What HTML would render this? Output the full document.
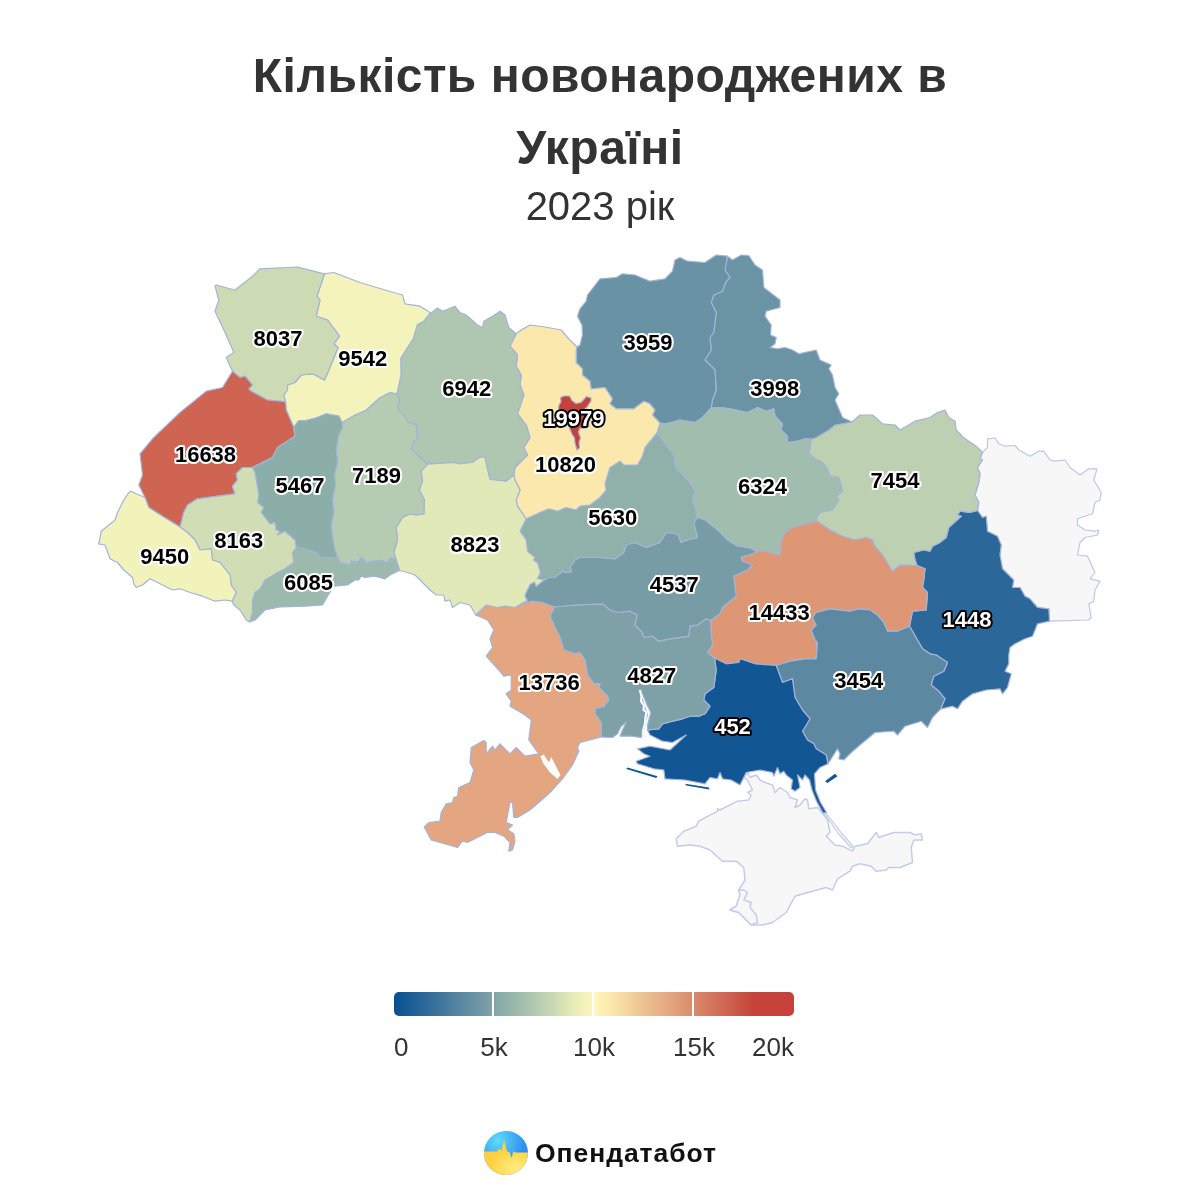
<!DOCTYPE html>
<html lang="uk"><head><meta charset="utf-8"><title>Кількість новонароджених в Україні</title>
<style>
html,body{margin:0;padding:0;background:#fff;}
body{width:1200px;height:1200px;position:relative;overflow:hidden;font-family:"Liberation Sans",Arial,sans-serif;color:#333;}
.title{position:absolute;left:0;top:40px;width:1200px;text-align:center;font-weight:bold;font-size:48px;line-height:72px;color:#333;letter-spacing:0.48px;}
.sub{position:absolute;left:0;top:183px;width:1200px;text-align:center;font-size:40px;line-height:46px;color:#333;}
.map{position:absolute;left:0;top:0;}
.lbl text{font-family:"Liberation Sans",Arial,sans-serif;font-weight:bold;font-size:22px;text-anchor:middle;paint-order:stroke fill;stroke-width:4px;stroke-linejoin:round;}
.lbl text.b{fill:#000;stroke:#fff;}
.lbl text.w{fill:#fff;stroke:#000;}
.bar{position:absolute;left:394px;top:992px;width:400px;height:24px;border-radius:5px;background:linear-gradient(to right,#074f92 0%,#769ba6 22.5%,#90b1aa 28.15%,#b0c8b1 35%,#cddbb4 40.2%,#e2e9b8 44.1%,#f4f3bc 47.7%,#fef7bd 50%,#fbe8ac 54.1%,#e4a680 68.7%,#dd9775 72.2%,#ce6451 83.2%,#c4423a 90%,#c4423a 100%);}
.tick{position:absolute;top:992px;width:2px;height:24px;background:#fff;}
.lg{position:absolute;top:1032px;font-size:26px;line-height:30px;color:#333;white-space:nowrap;}
.logo{position:absolute;left:484px;top:1130.5px;width:44px;height:44px;}
.brand{position:absolute;left:535px;top:1134.5px;font-size:26.5px;line-height:36px;font-weight:bold;color:#111;white-space:nowrap;letter-spacing:0.95px;}
</style></head><body>
<div class="title">Кількість новонароджених в<br>Україні</div>
<div class="sub">2023 рік</div>
<svg class="map" width="1200" height="1200" viewBox="0 0 1200 1200">
<g stroke="#a3b4da" stroke-width="1.2" stroke-linejoin="round">
<path d="M747.5 772.5 L750.0 777.5 L756.2 775.0 L760.0 780.0 L765.0 782.5 L772.5 785.0 L775.0 792.5 L780.0 787.5 L787.5 792.5 L790.0 797.5 L797.5 800.0 L795.0 807.5 L800.0 805.0 L805.0 798.8 L807.5 800.0 L808.8 808.8 L817.5 807.5 L823.8 815.0 L827.5 820.0 L830.0 832.5 L826.2 836.2 L835.0 845.0 L842.5 846.2 L852.5 851.2 L855.0 846.2 L867.5 843.8 L876.2 832.5 L878.8 837.5 L890.0 833.8 L893.8 832.5 L910.0 832.5 L915.0 835.0 L921.2 833.8 L922.5 840.0 L913.8 840.0 L911.2 847.5 L912.5 862.5 L900.0 867.5 L888.8 867.5 L886.2 870.0 L876.2 871.2 L871.2 866.2 L860.0 863.8 L852.5 866.2 L850.0 871.2 L837.5 878.8 L832.5 890.0 L826.2 887.5 L807.5 892.5 L795.0 896.2 L786.2 912.5 L772.5 922.5 L762.5 925.0 L751.2 925.0 L742.5 916.2 L738.8 912.5 L730.0 910.0 L736.2 906.2 L740.0 895.0 L738.8 890.0 L745.0 880.0 L743.8 867.5 L736.2 861.2 L722.5 861.2 L710.0 850.0 L700.0 846.2 L690.0 845.0 L677.5 846.2 L676.2 838.8 L683.8 831.2 L696.2 826.2 L698.8 821.2 L717.5 811.2 L717.5 808.8 L720.0 810.0 L737.5 801.2 L748.8 800.0 L751.2 795.0 L747.5 792.5 L752.5 790.0 L747.5 780.0 L743.8 777.5Z" fill="#f7f7f8" stroke="#c3cde8" stroke-width="1.5"/>
<path d="M730.0 910.0 L738.8 912.5 L742.5 916.2 L751.2 925.0 L757.5 922.5 L756.2 915.0 L750.0 907.5 L751.2 902.5 L743.8 900.0 L747.5 892.5 L743.8 890.0 L738.8 890.0 L740.0 895.0 L736.2 906.2Z" fill="#f7f7f8" stroke="#c3cde8" stroke-width="1.5"/>
<path d="M823.8 812.5 L837.5 832.5 L851.2 848.0 L853.0 846.5 L840.0 831.2 L825.0 812.0Z" fill="#f7f7f8" stroke="#c3cde8" stroke-width="1.2"/>
<path d="M982.5 452.5 L987.5 447.5 L987.5 438.8 L995.0 438.0 L998.8 443.8 L1005.0 446.2 L1015.0 445.5 L1018.8 450.0 L1030.0 456.2 L1038.8 451.2 L1043.8 451.2 L1050.0 460.0 L1055.0 461.2 L1065.0 460.0 L1070.0 467.5 L1080.0 475.0 L1088.8 468.8 L1097.0 468.8 L1093.8 480.0 L1101.2 492.5 L1100.0 500.0 L1095.0 502.5 L1092.5 513.8 L1077.5 518.8 L1077.5 525.0 L1085.0 530.0 L1095.0 531.2 L1098.8 530.0 L1097.5 535.0 L1085.0 537.5 L1080.0 542.5 L1077.5 555.0 L1087.5 556.2 L1095.0 572.5 L1090.0 578.8 L1100.0 581.2 L1095.0 590.0 L1093.8 601.2 L1088.8 603.8 L1091.2 617.5 L1088.8 620.0 L1049.5 621.2 L1048.8 608.8 L1037.5 607.5 L1030.0 598.8 L1025.0 596.2 L1020.0 587.5 L1012.5 587.5 L1013.8 580.0 L1002.5 568.8 L1000.0 555.0 L1001.2 545.0 L997.5 536.2 L987.5 531.2 L986.2 516.2 L982.5 517.5 L977.5 510.5 L978.8 502.5 L975.0 495.0 L978.8 482.5 L980.0 473.8 L977.5 467.5 L982.5 460.0 L980.0 458.8Z" fill="#f7f7f8" stroke="#bcc8e6"/>
<path d="M977.5 510.5 L982.5 517.5 L986.2 516.2 L987.5 531.2 L997.5 536.2 L1001.2 545.0 L1000.0 555.0 L1002.5 568.8 L1013.8 580.0 L1012.5 587.5 L1020.0 587.5 L1025.0 596.2 L1030.0 598.8 L1037.5 607.5 L1048.8 608.8 L1049.5 621.2 L1037.5 623.8 L1032.5 636.2 L1025.0 638.8 L1015.0 643.8 L1010.0 647.5 L1008.8 655.0 L1008.8 663.8 L1005.0 671.2 L1011.2 673.8 L1007.5 687.5 L1002.5 693.8 L1000.0 688.8 L986.2 690.0 L972.5 693.8 L962.5 701.2 L957.5 708.8 L952.5 706.2 L940.5 709.2 L945.0 698.8 L938.8 691.2 L931.2 685.0 L933.8 676.2 L943.8 671.2 L947.5 662.5 L936.2 655.0 L930.0 653.8 L922.5 648.8 L909.5 626.2 L912.5 611.2 L926.2 610.0 L927.5 592.5 L922.5 587.5 L923.8 580.0 L925.0 568.8 L917.0 565.5 L915.0 560.0 L913.8 552.5 L923.8 550.0 L930.0 551.2 L932.5 546.2 L940.0 542.5 L946.2 537.5 L948.8 527.5 L961.2 516.2 L957.5 515.0 L960.0 511.2 L970.0 512.5Z" fill="#2b6798" stroke="#a3b4da"/>
<path d="M852.0 422.0 L860.0 415.0 L872.5 415.0 L882.5 423.8 L895.0 425.0 L900.0 430.0 L915.0 421.2 L930.0 417.5 L937.5 412.5 L945.0 410.0 L948.8 417.5 L955.0 421.2 L956.2 430.0 L965.0 438.8 L976.2 446.2 L982.5 452.5 L980.0 458.8 L982.5 460.0 L977.5 467.5 L980.0 473.8 L978.8 482.5 L975.0 495.0 L978.8 502.5 L977.5 510.5 L970.0 512.5 L960.0 511.2 L957.5 515.0 L961.2 516.2 L948.8 527.5 L946.2 537.5 L940.0 542.5 L932.5 546.2 L930.0 551.2 L923.8 550.0 L913.8 552.5 L915.0 560.0 L917.0 565.5 L900.0 565.0 L892.5 571.2 L882.5 555.0 L873.8 545.0 L872.5 540.0 L866.2 537.5 L855.0 540.0 L842.5 536.2 L830.0 530.0 L817.0 521.2 L816.2 518.8 L820.0 512.5 L832.5 510.0 L838.8 500.0 L836.2 496.2 L842.5 491.2 L838.8 477.5 L830.0 476.2 L827.5 468.8 L822.5 462.5 L815.0 458.8 L808.8 453.8 L811.2 439.2 L816.2 437.5 L828.8 430.0 L835.0 425.0Z" fill="#bdd0b2" stroke="#a3b4da"/>
<path d="M727.5 256.2 L732.5 260.0 L741.2 255.0 L748.8 255.5 L755.0 265.0 L762.5 270.0 L763.8 287.5 L780.0 300.0 L780.0 307.5 L766.2 311.2 L765.0 316.2 L771.2 325.0 L770.5 335.0 L776.2 337.5 L775.0 343.8 L770.0 347.5 L777.5 348.8 L785.0 347.5 L792.5 350.0 L798.8 353.8 L816.2 350.0 L820.0 360.0 L831.2 365.0 L828.8 368.8 L832.5 375.0 L835.0 387.5 L838.8 393.8 L835.0 400.0 L842.5 417.5 L852.0 422.0 L835.0 425.0 L828.8 430.0 L816.2 437.5 L811.2 439.2 L805.0 438.8 L797.5 441.2 L787.5 442.5 L787.5 436.2 L781.2 430.0 L782.5 423.8 L775.0 416.2 L773.8 408.8 L766.2 411.2 L757.5 407.5 L747.5 412.5 L730.0 408.8 L720.0 407.5 L711.2 408.0 L712.5 400.0 L716.2 390.0 L715.0 370.0 L705.0 360.0 L711.2 350.0 L710.0 337.5 L713.8 332.5 L716.2 312.5 L711.2 302.5 L713.8 295.0 L722.5 291.2 L726.2 281.2 L730.0 277.5 L725.0 270.0Z" fill="#6a93a4" stroke="#a3b4da"/>
<path d="M577.0 347.0 L580.0 345.0 L582.5 335.0 L582.0 325.0 L577.5 316.2 L580.0 308.8 L586.2 301.2 L587.5 295.0 L600.0 278.8 L616.2 277.5 L622.5 273.8 L635.0 275.0 L650.0 281.2 L665.0 278.8 L672.5 271.2 L675.0 260.0 L680.0 257.5 L687.5 261.2 L705.0 262.5 L716.2 255.0 L727.5 256.2 L725.0 270.0 L730.0 277.5 L726.2 281.2 L722.5 291.2 L713.8 295.0 L711.2 302.5 L716.2 312.5 L713.8 332.5 L710.0 337.5 L711.2 350.0 L705.0 360.0 L715.0 370.0 L716.2 390.0 L712.5 400.0 L711.2 408.0 L702.5 417.5 L695.0 422.5 L680.0 420.0 L666.2 423.8 L660.0 423.0 L652.5 415.0 L655.0 410.0 L650.0 403.8 L643.8 401.2 L633.8 408.8 L616.2 408.8 L610.0 403.8 L612.5 398.8 L605.0 387.5 L591.2 388.8 L590.0 381.2 L582.5 375.0 L582.5 368.8 L576.2 362.5 L576.2 350.0Z" fill="#6992a4" stroke="#a3b4da"/>
<path d="M660.0 423.0 L666.2 423.8 L680.0 420.0 L695.0 422.5 L702.5 417.5 L711.2 408.0 L720.0 407.5 L730.0 408.8 L747.5 412.5 L757.5 407.5 L766.2 411.2 L773.8 408.8 L775.0 416.2 L782.5 423.8 L781.2 430.0 L787.5 436.2 L787.5 442.5 L797.5 441.2 L805.0 438.8 L811.2 439.2 L808.8 453.8 L815.0 458.8 L822.5 462.5 L827.5 468.8 L830.0 476.2 L838.8 477.5 L842.5 491.2 L836.2 496.2 L838.8 500.0 L832.5 510.0 L820.0 512.5 L816.2 518.8 L817.0 521.2 L805.0 523.8 L792.5 527.5 L785.0 532.5 L780.8 541.2 L780.0 555.0 L766.2 551.2 L760.0 550.5 L757.0 552.0 L750.0 548.0 L737.5 546.2 L727.5 540.0 L717.5 530.0 L705.0 520.0 L697.0 517.5 L696.2 511.2 L692.5 500.0 L695.0 491.2 L688.8 481.2 L676.2 468.8 L673.8 455.0 L666.2 445.0 L657.0 433.0Z" fill="#a0bdae" stroke="#a3b4da"/>
<path d="M757.0 552.0 L760.0 550.5 L766.2 551.2 L780.0 555.0 L780.8 541.2 L785.0 532.5 L792.5 527.5 L805.0 523.8 L817.0 521.2 L830.0 530.0 L842.5 536.2 L855.0 540.0 L866.2 537.5 L872.5 540.0 L873.8 545.0 L882.5 555.0 L892.5 571.2 L900.0 565.0 L917.0 565.5 L925.0 568.8 L923.8 580.0 L922.5 587.5 L927.5 592.5 L926.2 610.0 L912.5 611.2 L909.5 626.2 L897.5 631.2 L887.5 631.2 L883.8 622.5 L877.5 615.0 L870.0 610.0 L858.8 608.8 L850.0 611.2 L830.0 608.8 L816.2 612.5 L812.5 617.5 L816.2 625.0 L811.2 630.0 L815.0 640.0 L817.5 642.5 L816.2 658.8 L805.0 658.8 L790.0 661.2 L776.2 665.5 L755.0 663.8 L740.0 658.8 L738.8 662.5 L726.2 663.8 L714.5 658.0 L707.5 652.5 L712.5 645.0 L711.2 632.5 L710.5 620.5 L720.0 613.8 L722.5 607.5 L736.2 596.2 L733.8 576.2 L747.5 570.0 L752.5 565.0 L742.5 561.2 L741.2 557.0 L748.8 555.0Z" fill="#dd9775" stroke="#a3b4da"/>
<path d="M776.2 665.5 L790.0 661.2 L805.0 658.8 L816.2 658.8 L817.5 642.5 L815.0 640.0 L811.2 630.0 L816.2 625.0 L812.5 617.5 L816.2 612.5 L830.0 608.8 L850.0 611.2 L858.8 608.8 L870.0 610.0 L877.5 615.0 L883.8 622.5 L887.5 631.2 L897.5 631.2 L909.5 626.2 L922.5 648.8 L930.0 653.8 L936.2 655.0 L947.5 662.5 L943.8 671.2 L933.8 676.2 L931.2 685.0 L938.8 691.2 L945.0 698.8 L940.5 709.2 L932.5 717.5 L927.5 727.5 L921.2 721.2 L905.0 726.2 L897.5 735.0 L893.8 731.2 L875.0 732.5 L860.0 745.0 L850.0 753.8 L843.8 760.0 L838.8 758.8 L840.0 753.8 L837.5 748.8 L828.0 763.8 L826.2 755.0 L816.2 748.8 L813.8 743.8 L807.5 740.0 L802.5 731.2 L810.0 718.8 L802.5 710.0 L795.0 697.5 L792.5 678.8 L782.5 682.5Z" fill="#5c89a1" stroke="#a3b4da"/>
<path d="M714.5 658.0 L726.2 663.8 L738.8 662.5 L740.0 658.8 L755.0 663.8 L776.2 665.5 L782.5 682.5 L792.5 678.8 L795.0 697.5 L802.5 710.0 L810.0 718.8 L802.5 731.2 L807.5 740.0 L813.8 743.8 L816.2 748.8 L826.2 755.0 L828.0 763.8 L820.0 767.5 L814.5 773.8 L815.5 790.0 L820.5 802.5 L826.5 812.5 L823.0 813.0 L816.5 801.2 L812.0 790.0 L809.5 780.0 L805.0 775.0 L802.5 780.0 L797.5 775.0 L800.0 787.5 L795.0 791.2 L791.2 788.8 L792.5 780.0 L786.2 775.0 L783.8 771.2 L780.0 773.8 L777.5 767.5 L773.8 776.2 L772.5 772.5 L760.0 770.0 L746.2 772.5 L743.8 777.5 L740.0 785.0 L731.2 780.0 L722.5 778.8 L720.0 772.5 L717.5 778.8 L710.0 777.5 L705.0 783.8 L685.0 780.0 L665.0 778.8 L663.8 770.0 L653.8 768.8 L637.5 763.8 L636.2 761.2 L650.0 756.2 L643.8 753.8 L637.5 748.8 L650.0 746.2 L670.0 750.0 L686.2 735.0 L672.5 742.5 L662.5 741.2 L650.0 735.0 L647.5 730.0 L658.8 728.8 L662.5 723.8 L672.5 721.2 L682.5 718.8 L690.0 716.2 L698.8 716.2 L705.0 713.8 L710.0 706.2 L703.8 700.0 L705.0 693.8 L713.8 687.5 L716.2 670.0Z" fill="#125794" stroke="#a3b4da"/>
<path d="M554.5 607.0 L575.0 605.0 L602.5 603.8 L610.0 610.0 L617.5 612.5 L630.0 611.2 L637.5 615.0 L635.0 625.0 L642.5 632.5 L643.8 637.5 L652.5 636.2 L658.8 641.2 L670.0 638.8 L688.8 636.2 L690.0 626.2 L697.5 625.0 L706.2 618.8 L710.5 620.5 L711.2 632.5 L712.5 645.0 L707.5 652.5 L714.5 658.0 L716.2 670.0 L713.8 687.5 L705.0 693.8 L703.8 700.0 L710.0 706.2 L705.0 713.8 L698.8 716.2 L690.0 716.2 L682.5 718.8 L672.5 721.2 L662.5 723.8 L658.8 728.8 L647.5 730.0 L647.5 725.0 L650.8 712.5 L647.0 705.0 L643.0 695.0 L638.8 690.0 L641.2 696.2 L645.0 707.5 L647.5 715.0 L643.8 725.0 L641.2 737.5 L630.0 736.2 L620.0 736.2 L622.5 730.0 L626.2 722.5 L621.2 726.2 L617.5 733.8 L612.5 737.5 L601.2 737.0 L601.2 722.5 L595.0 713.8 L595.0 708.8 L603.8 706.2 L608.8 700.0 L607.5 696.2 L598.8 687.5 L600.0 683.8 L593.8 683.8 L587.5 675.0 L585.0 660.0 L580.0 652.5 L575.0 653.8 L563.8 650.0 L560.0 637.5 L553.8 625.0 L550.0 616.2Z" fill="#7ea1a7" stroke="#a3b4da"/>
<path d="M521.2 603.8 L532.5 601.2 L542.5 602.5 L554.5 607.0 L550.0 616.2 L553.8 625.0 L560.0 637.5 L563.8 650.0 L575.0 653.8 L580.0 652.5 L585.0 660.0 L587.5 675.0 L593.8 683.8 L600.0 683.8 L598.8 687.5 L607.5 696.2 L608.8 700.0 L603.8 706.2 L595.0 708.8 L595.0 713.8 L601.2 722.5 L601.2 737.0 L590.0 740.0 L580.0 742.5 L577.5 747.5 L578.8 751.2 L572.5 765.0 L562.5 778.8 L550.0 792.5 L538.8 802.5 L530.0 810.0 L517.5 817.5 L513.8 817.5 L512.5 802.5 L510.0 802.5 L506.2 822.5 L512.5 825.0 L507.5 830.0 L513.8 833.8 L515.0 841.2 L512.5 850.0 L508.8 851.2 L510.0 842.5 L503.8 836.2 L495.0 832.5 L487.5 832.5 L467.5 842.5 L462.5 841.2 L457.5 847.5 L431.2 840.0 L424.2 827.0 L428.8 822.5 L440.0 821.2 L441.2 812.5 L446.2 803.8 L452.5 802.5 L453.8 797.5 L457.5 796.2 L458.8 787.5 L470.0 782.5 L473.8 770.0 L470.0 762.5 L471.2 747.5 L483.8 740.5 L486.2 742.5 L486.2 753.8 L492.5 746.2 L495.0 750.0 L500.0 743.8 L510.0 753.8 L516.2 747.5 L525.0 756.2 L538.8 753.8 L528.8 740.0 L531.2 720.0 L525.0 715.0 L510.0 706.2 L511.2 701.2 L506.2 693.8 L511.2 690.0 L511.2 675.0 L503.8 676.2 L498.8 670.0 L486.2 656.2 L492.5 647.5 L490.0 638.8 L493.8 630.0 L487.5 620.0 L475.8 615.0 L486.2 605.0 L497.5 607.5 L505.0 606.2 L515.0 607.5Z" fill="#e4a680" stroke="#a3b4da"/>
<path d="M544.0 580.0 L549.0 577.5 L554.5 577.5 L563.0 571.0 L565.0 572.5 L571.5 572.0 L570.0 567.5 L574.0 562.0 L574.5 560.0 L580.0 557.5 L600.0 557.5 L615.0 558.8 L623.8 552.5 L626.2 545.0 L635.0 542.5 L646.2 547.5 L660.0 542.5 L666.2 532.5 L677.5 533.8 L681.2 542.5 L687.5 540.0 L697.5 537.5 L693.8 523.8 L697.0 517.5 L705.0 520.0 L717.5 530.0 L727.5 540.0 L737.5 546.2 L750.0 548.0 L757.0 552.0 L748.8 555.0 L741.2 557.0 L742.5 561.2 L752.5 565.0 L747.5 570.0 L733.8 576.2 L736.2 596.2 L722.5 607.5 L720.0 613.8 L710.5 620.5 L706.2 618.8 L697.5 625.0 L690.0 626.2 L688.8 636.2 L670.0 638.8 L658.8 641.2 L652.5 636.2 L643.8 637.5 L642.5 632.5 L635.0 625.0 L637.5 615.0 L630.0 611.2 L617.5 612.5 L610.0 610.0 L602.5 603.8 L575.0 605.0 L554.5 607.0 L542.5 602.5 L532.5 601.2 L521.2 603.8 L527.5 600.5 L525.8 598.0 L525.0 595.0 L530.0 584.5 L534.5 582.0 L536.0 586.5Z" fill="#779ca6" stroke="#a3b4da"/>
<path d="M526.2 518.8 L540.0 512.5 L548.8 508.8 L557.5 511.2 L566.2 507.5 L576.2 510.0 L580.0 506.2 L590.0 505.0 L600.0 497.5 L606.2 490.0 L605.0 483.8 L610.0 467.5 L620.0 461.2 L623.8 465.0 L637.5 465.0 L642.5 456.2 L645.0 447.5 L657.0 433.0 L666.2 445.0 L673.8 455.0 L676.2 468.8 L688.8 481.2 L695.0 491.2 L692.5 500.0 L696.2 511.2 L697.0 517.5 L693.8 523.8 L697.5 537.5 L687.5 540.0 L681.2 542.5 L677.5 533.8 L666.2 532.5 L660.0 542.5 L646.2 547.5 L635.0 542.5 L626.2 545.0 L623.8 552.5 L615.0 558.8 L600.0 557.5 L580.0 557.5 L574.5 560.0 L574.0 562.0 L570.0 567.5 L571.5 572.0 L565.0 572.5 L563.0 571.0 L554.5 577.5 L549.0 577.5 L544.0 580.0 L537.5 578.5 L540.5 572.5 L537.5 563.0 L533.5 560.0 L535.0 557.5 L527.5 551.2 L526.2 540.0 L520.0 531.2Z" fill="#90b1aa" stroke="#a3b4da"/>
<path d="M516.2 333.8 L521.2 330.0 L530.0 325.0 L545.0 327.0 L561.2 330.0 L567.5 337.5 L577.0 347.0 L576.2 350.0 L576.2 362.5 L582.5 368.8 L582.5 375.0 L590.0 381.2 L591.2 388.8 L605.0 387.5 L612.5 398.8 L610.0 403.8 L616.2 408.8 L633.8 408.8 L643.8 401.2 L650.0 403.8 L655.0 410.0 L652.5 415.0 L660.0 423.0 L657.0 433.0 L645.0 447.5 L642.5 456.2 L637.5 465.0 L623.8 465.0 L620.0 461.2 L610.0 467.5 L605.0 483.8 L606.2 490.0 L600.0 497.5 L590.0 505.0 L580.0 506.2 L576.2 510.0 L566.2 507.5 L557.5 511.2 L548.8 508.8 L540.0 512.5 L526.2 518.8 L517.5 506.2 L516.2 500.0 L520.0 490.0 L515.0 480.0 L513.8 475.0 L515.0 467.5 L527.5 455.0 L523.8 447.5 L530.0 437.5 L526.2 425.0 L517.5 413.8 L523.8 395.0 L520.0 385.0 L521.2 375.0 L516.2 366.2 L517.5 355.0 L510.0 346.2Z" fill="#fbe8ac" stroke="#a3b4da"/>
<path d="M429.2 314.5 L437.5 308.0 L442.5 311.2 L455.0 306.2 L460.0 312.5 L466.2 315.0 L477.5 325.0 L482.5 327.5 L483.8 321.2 L492.5 316.2 L500.0 311.2 L505.0 315.0 L508.8 327.5 L516.2 333.8 L510.0 346.2 L517.5 355.0 L516.2 366.2 L521.2 375.0 L520.0 385.0 L523.8 395.0 L517.5 413.8 L526.2 425.0 L530.0 437.5 L523.8 447.5 L527.5 455.0 L515.0 467.5 L513.8 475.0 L506.2 481.2 L490.0 479.5 L487.0 467.5 L485.0 457.5 L480.0 457.0 L472.5 462.5 L458.8 463.8 L455.0 462.5 L427.5 464.2 L416.2 453.8 L411.2 448.8 L413.8 441.2 L417.5 438.8 L416.2 425.0 L408.8 422.5 L397.5 407.5 L400.0 400.0 L397.0 393.8 L401.0 375.0 L400.8 358.0 L413.2 338.8 L417.5 324.5 L423.8 321.2Z" fill="#afc7b1" stroke="#a3b4da"/>
<path d="M427.5 464.2 L455.0 462.5 L458.8 463.8 L472.5 462.5 L480.0 457.0 L485.0 457.5 L487.0 467.5 L490.0 479.5 L506.2 481.2 L513.8 475.0 L515.0 480.0 L520.0 490.0 L516.2 500.0 L517.5 506.2 L526.2 518.8 L520.0 531.2 L526.2 540.0 L527.5 551.2 L535.0 557.5 L533.5 560.0 L537.5 563.0 L540.5 572.5 L537.5 578.5 L544.0 580.0 L536.0 586.5 L534.5 582.0 L530.0 584.5 L525.0 595.0 L525.8 598.0 L527.5 600.5 L521.2 603.8 L515.0 607.5 L505.0 606.2 L497.5 607.5 L486.2 605.0 L475.8 615.0 L470.0 605.0 L460.0 602.5 L452.5 607.5 L450.0 600.0 L445.0 601.2 L443.8 595.0 L436.2 595.0 L430.0 590.0 L422.5 582.5 L415.0 575.0 L407.5 572.5 L399.5 570.5 L396.2 560.0 L393.8 552.5 L397.5 540.0 L396.2 527.5 L402.5 517.5 L410.0 513.8 L416.2 515.0 L423.8 513.8 L424.5 500.0 L419.2 490.0 L422.5 481.2 L421.2 471.2Z" fill="#e2e9b8" stroke="#a3b4da"/>
<path d="M342.0 422.5 L355.0 415.0 L366.2 410.0 L380.0 397.5 L390.0 392.5 L397.0 393.8 L400.0 400.0 L397.5 407.5 L408.8 422.5 L416.2 425.0 L417.5 438.8 L413.8 441.2 L411.2 448.8 L416.2 453.8 L427.5 464.2 L421.2 471.2 L422.5 481.2 L419.2 490.0 L424.5 500.0 L423.8 513.8 L416.2 515.0 L410.0 513.8 L402.5 517.5 L396.2 527.5 L397.5 540.0 L393.8 552.5 L396.2 560.0 L391.2 557.5 L387.5 562.5 L380.0 560.0 L366.2 562.5 L361.2 557.5 L357.5 562.5 L351.2 561.2 L350.0 565.0 L340.0 562.5 L337.5 558.0 L335.0 550.0 L332.5 537.5 L331.2 525.0 L333.8 512.5 L332.5 500.0 L335.5 485.0 L334.5 475.0 L337.5 462.5 L336.2 450.0 L338.8 435.0 L342.5 427.5Z" fill="#b5cbb2" stroke="#a3b4da"/>
<path d="M324.5 273.8 L333.8 272.5 L360.0 282.5 L385.0 290.0 L402.5 295.0 L405.0 303.8 L420.0 306.2 L430.0 312.5 L429.2 314.5 L423.8 321.2 L417.5 324.5 L413.2 338.8 L400.8 358.0 L401.0 375.0 L397.0 393.8 L390.0 392.5 L380.0 397.5 L366.2 410.0 L355.0 415.0 L342.0 422.5 L338.8 416.2 L326.2 413.8 L317.5 417.5 L305.0 420.8 L298.8 420.5 L293.8 427.5 L286.2 410.0 L285.5 402.0 L283.8 395.0 L287.5 390.0 L287.5 385.0 L295.0 382.5 L301.2 375.0 L312.5 373.8 L324.5 380.0 L330.0 367.5 L338.0 347.5 L333.8 343.8 L339.5 336.2 L327.5 320.0 L316.2 316.2 L320.0 300.0 L317.0 296.2Z" fill="#f4f3bc" stroke="#a3b4da"/>
<path d="M232.5 371.2 L226.2 357.5 L233.8 352.5 L225.0 332.5 L215.0 311.2 L218.8 300.0 L215.0 286.2 L216.2 285.0 L235.0 290.0 L252.5 276.2 L260.0 268.8 L297.5 267.0 L324.5 273.8 L317.0 296.2 L320.0 300.0 L316.2 316.2 L327.5 320.0 L339.5 336.2 L333.8 343.8 L338.0 347.5 L330.0 367.5 L324.5 380.0 L312.5 373.8 L301.2 375.0 L295.0 382.5 L287.5 385.0 L287.5 390.0 L283.8 395.0 L285.5 402.0 L280.0 401.2 L267.5 400.0 L251.2 391.2 L248.8 388.8 L252.5 385.0 L245.0 376.2 L240.0 377.5Z" fill="#cddbb4" stroke="#a3b4da"/>
<path d="M232.5 371.2 L240.0 377.5 L245.0 376.2 L252.5 385.0 L248.8 388.8 L251.2 391.2 L267.5 400.0 L280.0 401.2 L285.5 402.0 L286.2 410.0 L293.8 427.5 L295.0 436.2 L277.5 447.5 L272.5 457.5 L252.5 467.5 L242.5 467.5 L236.2 473.8 L237.5 480.0 L232.5 486.2 L235.0 493.8 L197.5 498.8 L187.5 505.0 L183.8 512.5 L180.0 527.0 L162.5 516.2 L148.8 507.5 L145.0 497.5 L138.8 485.0 L142.5 475.0 L140.0 453.8 L152.5 438.8 L180.0 412.5 L206.2 391.2 L222.5 387.5Z" fill="#ce6451" stroke="#a3b4da"/>
<path d="M293.8 427.5 L298.8 420.5 L305.0 420.8 L317.5 417.5 L326.2 413.8 L338.8 416.2 L342.0 422.5 L342.5 427.5 L338.8 435.0 L336.2 450.0 L337.5 462.5 L334.5 475.0 L335.5 485.0 L332.5 500.0 L333.8 512.5 L331.2 525.0 L332.5 537.5 L335.0 550.0 L337.5 558.0 L320.0 557.5 L316.2 552.5 L310.0 551.2 L300.0 547.5 L296.2 547.5 L295.0 540.0 L285.0 531.2 L277.5 535.0 L280.0 531.2 L276.2 530.0 L275.0 522.5 L270.0 523.8 L261.2 512.5 L263.8 507.5 L257.5 502.5 L258.8 495.0 L255.0 472.5 L252.5 467.5 L272.5 457.5 L277.5 447.5 L295.0 436.2Z" fill="#8caea9" stroke="#a3b4da"/>
<path d="M296.2 547.5 L300.0 547.5 L310.0 551.2 L316.2 552.5 L320.0 557.5 L337.5 558.0 L340.0 562.5 L350.0 565.0 L351.2 561.2 L357.5 562.5 L361.2 557.5 L366.2 562.5 L380.0 560.0 L387.5 562.5 L391.2 557.5 L396.2 560.0 L399.5 570.5 L390.0 575.0 L385.0 578.8 L375.0 576.2 L365.0 577.5 L361.2 576.2 L358.8 580.0 L355.0 580.0 L347.5 585.0 L333.8 586.2 L327.5 596.2 L322.5 605.0 L305.0 606.2 L280.0 607.0 L265.0 610.0 L255.0 620.0 L249.5 622.0 L252.5 612.5 L252.5 600.0 L255.0 592.5 L260.0 588.8 L265.0 580.0 L277.5 572.5 L285.0 568.8 L293.8 562.5 L292.5 552.5Z" fill="#9bb9ac" stroke="#a3b4da"/>
<path d="M180.0 527.0 L183.8 512.5 L187.5 505.0 L197.5 498.8 L235.0 493.8 L232.5 486.2 L237.5 480.0 L236.2 473.8 L242.5 467.5 L252.5 467.5 L255.0 472.5 L258.8 495.0 L257.5 502.5 L263.8 507.5 L261.2 512.5 L270.0 523.8 L275.0 522.5 L276.2 530.0 L280.0 531.2 L277.5 535.0 L285.0 531.2 L295.0 540.0 L296.2 547.5 L292.5 552.5 L293.8 562.5 L285.0 568.8 L277.5 572.5 L265.0 580.0 L260.0 588.8 L255.0 592.5 L252.5 600.0 L252.5 612.5 L249.5 622.0 L246.2 620.0 L240.0 610.0 L233.8 605.0 L232.0 601.2 L236.2 592.5 L231.2 585.0 L230.0 575.0 L220.0 562.5 L212.5 560.0 L211.2 548.8 L200.0 550.0 L195.0 540.0 L187.5 532.5Z" fill="#d0ddb5" stroke="#a3b4da"/>
<path d="M145.0 497.5 L148.8 507.5 L162.5 516.2 L180.0 527.0 L187.5 532.5 L195.0 540.0 L200.0 550.0 L211.2 548.8 L212.5 560.0 L220.0 562.5 L230.0 575.0 L231.2 585.0 L236.2 592.5 L232.0 601.2 L225.0 600.0 L215.0 601.2 L202.5 596.2 L190.0 592.5 L180.0 588.8 L172.5 590.0 L160.0 583.8 L150.0 578.8 L142.5 585.0 L136.2 587.5 L133.8 583.8 L132.5 577.5 L123.8 570.0 L117.5 562.5 L110.0 558.8 L105.0 545.0 L98.8 543.8 L101.2 531.2 L115.0 520.0 L117.5 512.5 L123.8 500.0 L128.8 492.5 L131.2 491.2 L136.2 493.8Z" fill="#f2f2bb" stroke="#a3b4da"/>
<path d="M560.5 397.5 L564.0 396.0 L569.5 396.0 L572.0 400.5 L576.0 403.5 L581.0 402.5 L586.5 396.5 L591.0 398.0 L591.0 401.0 L587.0 407.0 L585.0 409.0 L589.0 414.0 L590.0 420.0 L588.0 422.0 L589.0 426.0 L584.0 428.5 L580.0 428.0 L578.5 432.0 L580.5 438.0 L579.0 442.0 L579.5 448.0 L577.0 450.0 L575.0 443.0 L574.5 438.0 L572.0 434.0 L569.5 428.0 L564.0 418.0 L558.5 408.5 L559.0 405.0 L561.0 402.0Z" fill="#c4423a"/>
<path d="M540.5 756.2 L543.8 754.5 L548.8 762.5 L551.2 757.0 L560.5 775.0 L557.5 779.0 L550.0 772.5 L543.0 763.0Z" fill="#fff" stroke="none"/>
<path d="M640.0 690.0 L641.5 696.2 L641.0 701.2 L644.0 705.5 L643.5 710.0 L646.5 712.0 L645.5 717.5 L645.0 723.8 L643.0 731.2 L643.8 737.5" fill="none" stroke="#dde5f5" stroke-width="2.4"/>
<path d="M640.0 690.0 L641.5 696.2 L641.0 701.2 L644.0 705.5 L643.5 710.0 L646.5 712.0 L645.5 717.5 L645.0 723.8 L643.0 731.2 L643.8 737.5" fill="none" stroke="#fff" stroke-width="1.3"/>
<path d="M627.5 767.5 L657.5 776.2 L656.2 778.0 L626.2 769.0Z" fill="#125794" stroke="none"/>
<path d="M685.0 783.8 L708.8 787.5 L709.5 789.5 L686.2 785.5Z" fill="#125794" stroke="none"/>
<path d="M825.0 781.2 L835.0 773.8 L837.5 776.2 L827.5 783.0Z" fill="#125794" stroke="none"/>
</g>
<g class="lbl">
<text class="b" x="278.1" y="345.9">8037</text>
<text class="b" x="362.8" y="365.9">9542</text>
<text class="b" x="466.8" y="395.6">6942</text>
<text class="b" x="648.0" y="349.6">3959</text>
<text class="b" x="774.8" y="395.6">3998</text>
<text class="b" x="205.5" y="461.9">16638</text>
<text class="b" x="300.0" y="493.1">5467</text>
<text class="b" x="376.5" y="483.4">7189</text>
<text class="b" x="565.5" y="471.9">10820</text>
<text class="b" x="762.5" y="493.9">6324</text>
<text class="b" x="895.0" y="487.6">7454</text>
<text class="b" x="612.8" y="525.4">5630</text>
<text class="b" x="164.8" y="564.1">9450</text>
<text class="b" x="238.8" y="547.9">8163</text>
<text class="b" x="308.5" y="590.1">6085</text>
<text class="b" x="475.0" y="552.1">8823</text>
<text class="b" x="674.2" y="592.4">4537</text>
<text class="b" x="651.8" y="683.3">4827</text>
<text class="b" x="549.2" y="690.1">13736</text>
<text class="b" x="779.2" y="619.9">14433</text>
<text class="b" x="858.8" y="687.9">3454</text>
<text class="w" x="732.5" y="733.9">452</text>
<text class="w" x="967.0" y="626.6">1448</text>
<text class="w" x="573.8" y="426.4">19979</text>
</g>
</svg>
<div class="bar"></div>
<div class="tick" style="left:492px"></div><div class="tick" style="left:592px"></div><div class="tick" style="left:692px"></div>
<div class="lg" style="left:394px">0</div>
<div class="lg" style="left:494px;transform:translateX(-50%)">5k</div>
<div class="lg" style="left:594px;transform:translateX(-50%)">10k</div>
<div class="lg" style="left:694px;transform:translateX(-50%)">15k</div>
<div class="lg" style="left:794px;transform:translateX(-100%)">20k</div>
<svg class="logo" viewBox="0 0 44 44">
<defs><radialGradient id="lb" cx="0.32" cy="0.22" r="0.6"><stop offset="0" stop-color="#5fdcff"/><stop offset="1" stop-color="#2f8ff0"/></radialGradient>
<radialGradient id="ly" cx="0.7" cy="0.8" r="0.6"><stop offset="0" stop-color="#ffee80"/><stop offset="1" stop-color="#ffcf3c"/></radialGradient>
<clipPath id="cc"><circle cx="22" cy="22" r="22"/></clipPath></defs>
<g clip-path="url(#cc)"><rect width="44" height="44" fill="url(#lb)"/>
<path d="M0 20.5 L13 20.5 L15.5 17.5 L17.5 19.5 L20 9 L23 20.5 L25.5 21 L27.5 27 L29.5 20 L31 21.5 L44 21.5 L44 44 L0 44Z" fill="url(#ly)"/></g>
</svg>
<div class="brand">Опендатабот</div>
</body></html>
